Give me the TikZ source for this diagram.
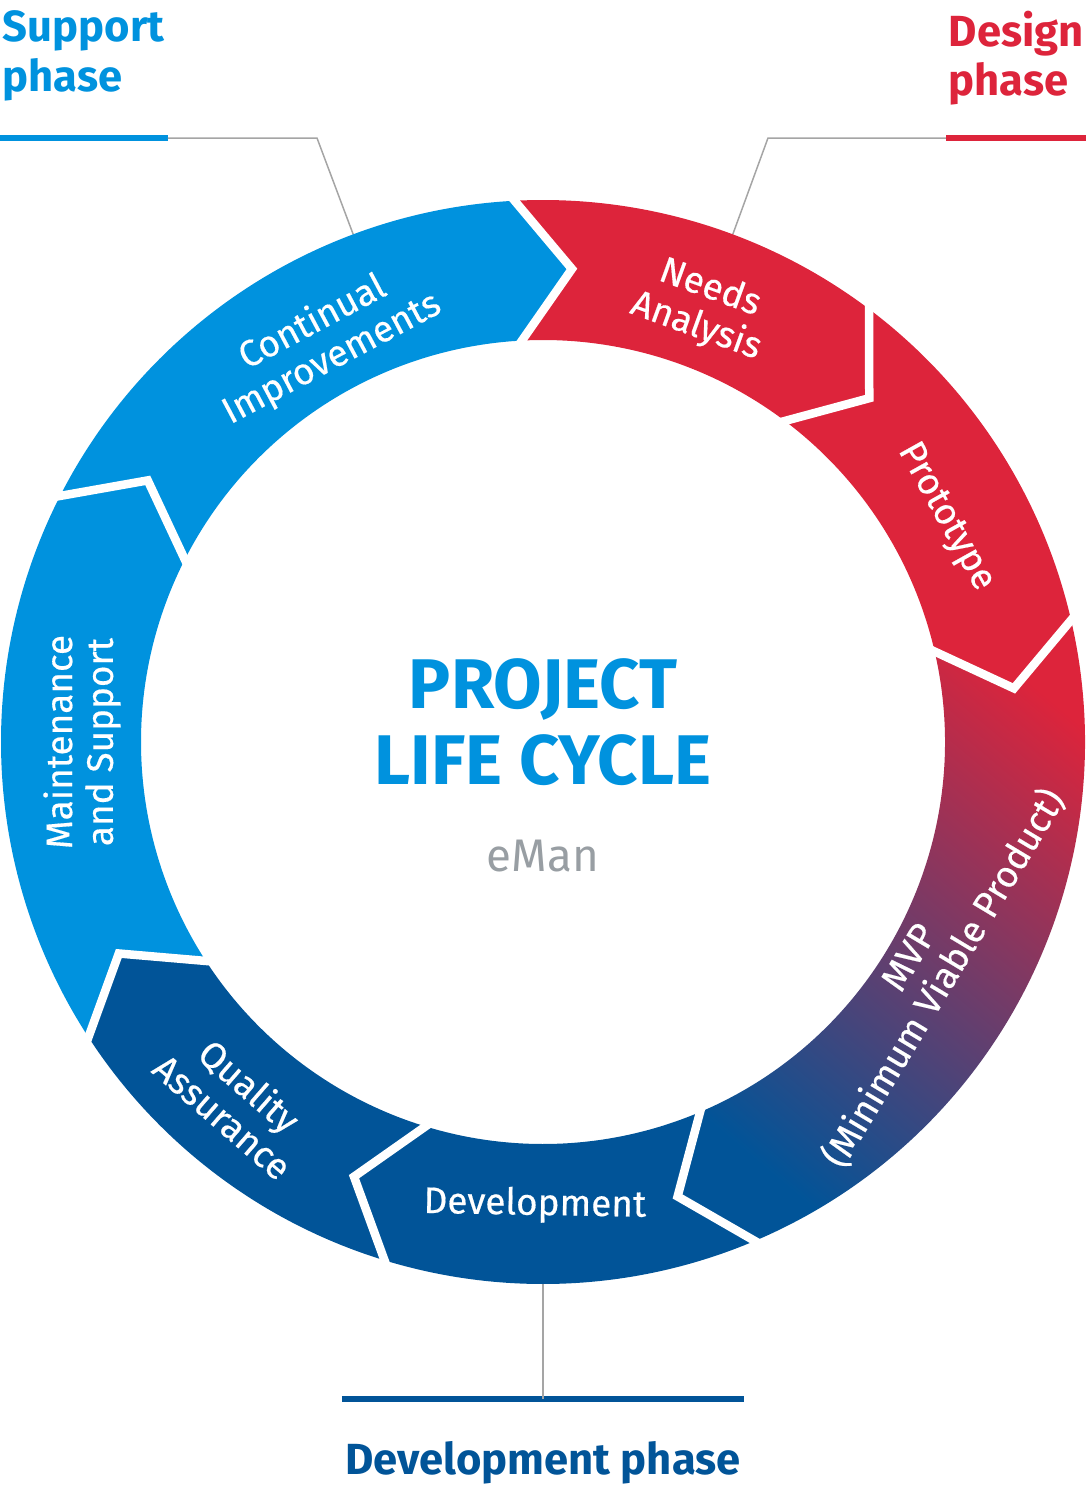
\documentclass[tikz,border=0pt]{standalone}
\usepackage{fontspec}
\setmainfont{Fira Sans}
\newfontface\medfont{Fira Sans}[FakeBold=0.4]
\usepackage{tikz}
\usetikzlibrary{positioning, calc}
\definecolor{supblue}{RGB}{0,146,222}
\definecolor{desred}{RGB}{221,36,59}
\definecolor{devblue}{RGB}{1,84,152}
\definecolor{leadgray}{RGB}{165,165,165}
\definecolor{brandgray}{RGB}{152,158,163}
\newcommand{\Rout}{5.42}
\newcommand{\Rin}{4.02}
\newcommand{\Rmid}{4.74}
\newcommand{\tipshift}{6.5}
% one arrow-shaped piece of the ring: start angle, end angle, fill options
\newcommand{\ringpiece}[3]{%
  \path[#3] (#1:\Rout) arc[start angle=#1, end angle=#2, radius=\Rout]
    -- ({#2-\tipshift}:\Rmid) -- (#2:\Rin)
    arc[start angle=#2, end angle=#1, radius=\Rin]
    -- ({#1-\tipshift}:\Rmid) -- cycle;}
\tikzset{
  seglabel/.style={text=white, align=center, inner sep=0pt,
    font=\fontsize{10.5}{11.6}\selectfont\medfont},
  phaselabel/.style={align=left, inner sep=0pt,
    font=\fontsize{12.4}{14.2}\selectfont\bfseries},
  phasebar/.style={line width=0.06cm},
  leader/.style={draw=leadgray, line width=0.015cm},
  gapline/.style={white, line width=0.085cm, miter limit=20,
    shorten <=-3pt, shorten >=-3pt}
}

\begin{document}
\begin{tikzpicture}
  \useasboundingbox (-5.43,-7.46) rectangle (5.43,7.42);
  % Phase labels and leaders
  \node[phaselabel, text=supblue, anchor=north west] (supLbl) at (-5.41,7.32) {Support\\phase};
  \node[phaselabel, text=desred, anchor=north west] (desLbl) at (4.05,7.32) {Design\\phase};
  \node[phaselabel, text=devblue, anchor=base] (devPhLbl) at (0,-7.32) {Development phase};
  \coordinate (supBarStart) at (-5.43,6.04);
  \coordinate (supBarEnd) at (-3.75,6.04);
  \coordinate (supKnee) at (-2.26,6.04);
  \coordinate (supRing) at (110.5:\Rout);
  \coordinate (desBarStart) at (5.43,6.04);
  \coordinate (desBarEnd) at (4.03,6.04);
  \coordinate (desKnee) at (2.25,6.04);
  \coordinate (desRing) at (69.5:\Rout);
  \coordinate (devBarL) at (-2.01,-6.57);
  \coordinate (devBarR) at (2.01,-6.57);
  \coordinate (devBarMid) at (0,-6.57);
  \coordinate (devRing) at (-90:\Rout);
  \draw[phasebar, supblue] (supBarStart) -- (supBarEnd);
  \draw[phasebar, desred] (desBarStart) -- (desBarEnd);
  \draw[phasebar, devblue] (devBarL) -- (devBarR);
  \draw[leader] (supBarEnd) -- (supKnee) -- (supRing);
  \draw[leader] (desBarEnd) -- (desKnee) -- (desRing);
  \draw[leader] (devBarMid) -- (devRing);
  % Ring pieces
  \ringpiece{153}{93}{fill=supblue}
  \ringpiece{93}{53}{fill=desred}
  \ringpiece{53}{13}{fill=desred}
  \ringpiece{13}{-67}{top color=desred, middle color=desred!70!devblue,
    bottom color=devblue, shading angle=-40}
  \ringpiece{-67}{-107}{fill=devblue}
  \ringpiece{-107}{-147}{fill=devblue}
  \ringpiece{-147}{-207}{fill=supblue}
  % White gaps
  \foreach \a in {153,93,53,13,-67,-107,-147}
    \draw[gapline] (\a:\Rin) -- ({\a-\tipshift}:\Rmid) -- (\a:\Rout);
  % Piece labels
  \node[seglabel, rotate=28] (contLbl) at (118.8:4.58) {Continual\\Improvements};
  \node[seglabel, rotate=-20] (needsLbl) at (69.8:4.63) {Needs\\Analysis};
  \node[seglabel, rotate=-60.8] (protoLbl) at (29.2:4.61) {Prototype};
  \node[seglabel, rotate=59] (mvpLbl) at (-30.5:4.47) {MVP\\(Minimum Viable Product)};
  \node[seglabel, rotate=-1] (devLbl) at (-91:4.63) {Development};
  \node[seglabel, rotate=-41] (qaLbl) at (-130.5:4.72) {Quality\\Assurance};
  \node[seglabel, rotate=90] (maintLbl) at (180:4.61) {Maintenance\\and Support};
  % Title
  \node[text=supblue, align=center, inner sep=0pt,
    font=\fontsize{20}{21.6}\selectfont\bfseries] (title) at (0,0.2) {PROJECT\\LIFE CYCLE};
  \node[text=brandgray, inner sep=0pt, font=\fontsize{13}{14}\selectfont,
    below=0.53cm of title] (brand) {eMan};
\end{tikzpicture}
\end{document}
